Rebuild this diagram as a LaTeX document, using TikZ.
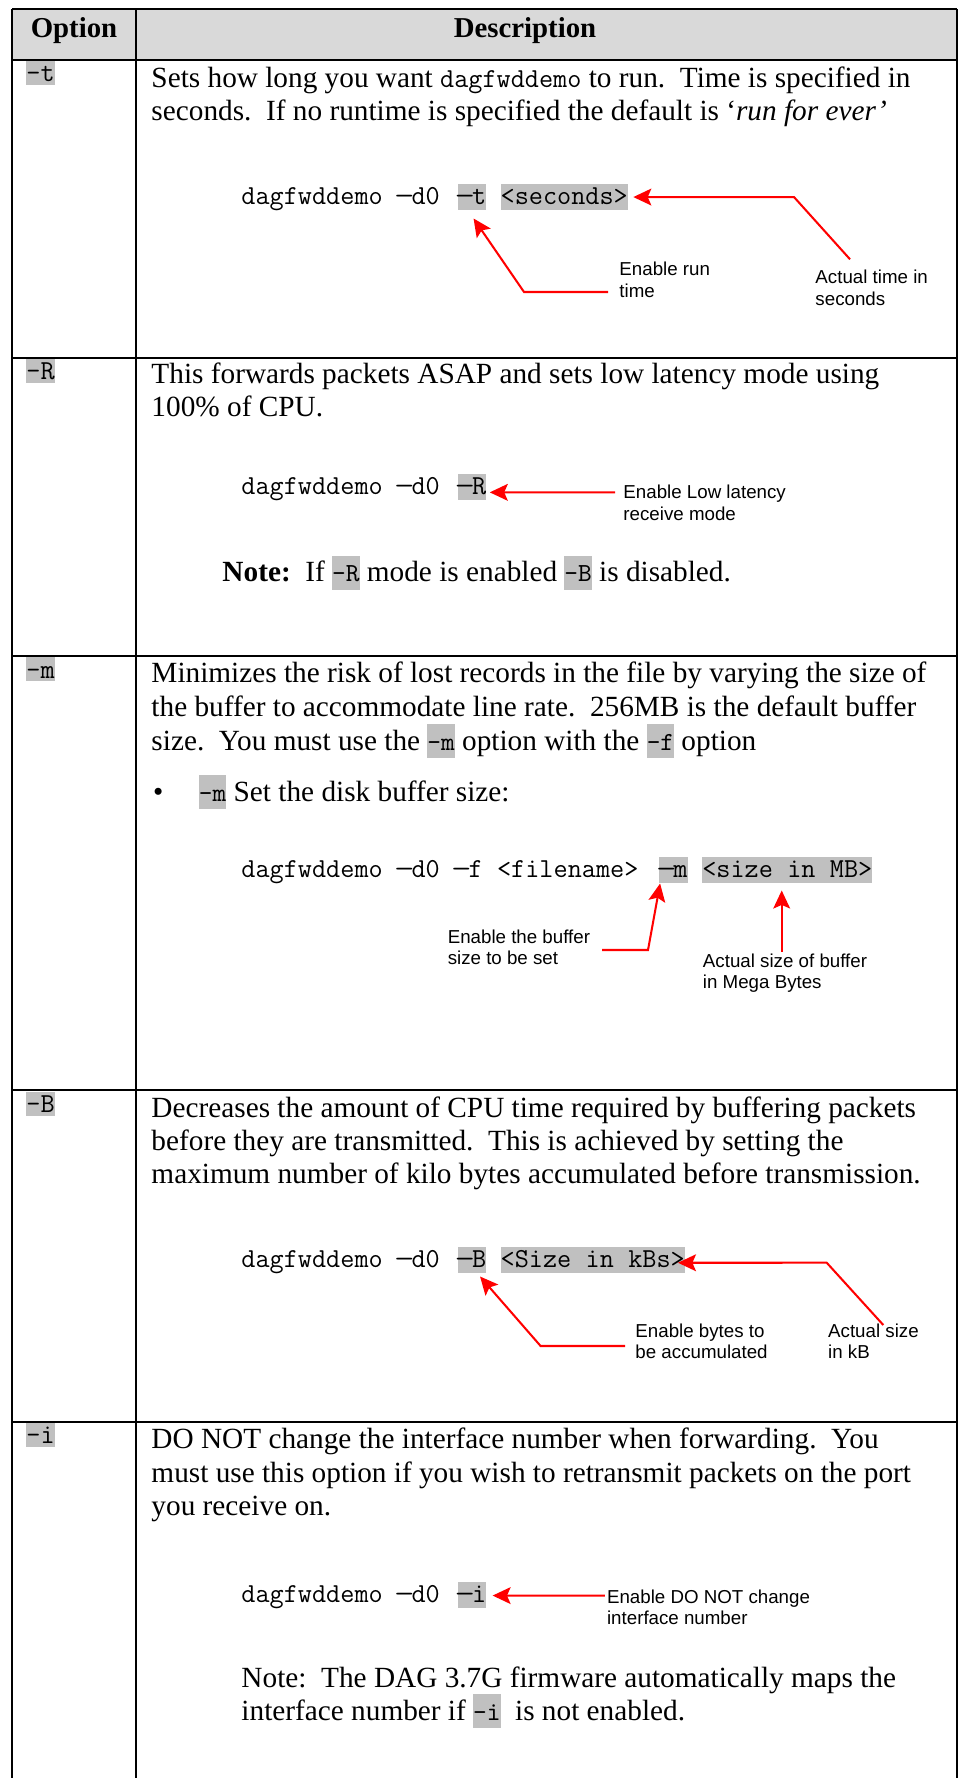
\documentclass[tikz,border=0pt]{standalone}
\usepackage{fontspec}
\setmainfont{Liberation Serif}
\setsansfont{Liberation Sans}
\usetikzlibrary{arrows.meta,calc}

\definecolor{headgray}{RGB}{217,217,217}
\definecolor{hlgray}{RGB}{192,192,192}
\definecolor{callred}{RGB}{255,0,0}

% highlighted option inside running text
\newcommand\hlin[1]{{\setlength{\fboxsep}{0pt}\colorbox{hlgray}{\rule[-3.3pt]{0pt}{14.1pt}\fontsize{10.86}{11}\selectfont\ttfamily #1}}}
% command lines: one character cell = 6pt, spaces included
\newcommand\cmdfont{\fontsize{11.43}{13}\selectfont\ttfamily\spaceskip=6pt\relax}
% long dash filling one character cell
\newcommand\dsh{\makebox[6pt]{\scalebox{1.45}[1]{–}}}

\tikzset{
  grid/.style={line width=0.85pt},
  head/.style={anchor=base, inner sep=0pt, font=\fontsize{12}{14}\selectfont\bfseries},
  body/.style={anchor=base west, inner sep=0pt, font=\fontsize{12.2}{13.8}\selectfont},
  cmd/.style={anchor=base west, inner sep=0pt, font=\cmdfont},
  hlbox/.style={cmd, fill=hlgray, text height=8.5pt, text depth=2.3pt},
  optbox/.style={anchor=base west, inner sep=0pt, fill=hlgray, font=\cmdfont, text height=8.6pt, text depth=1.4pt},
  lbl/.style={anchor=base west, inner sep=0pt, font=\fontsize{7.8}{8.9}\selectfont\sffamily},
  callout/.style={draw=callred, line width=0.85pt, -{Stealth[length=7.5pt,width=7pt,inset=1.5pt]}},
}

\begin{document}
\begin{tikzpicture}[x=0.41667pt, y=-0.41667pt]
\frenchspacing
\path[fill=white, use as bounding box] (0,0) rectangle (958,1778);

% header band
\fill[headgray] (12,9) rectangle (957,60);
\node[head] (hOpt) at (74,37.5) {Option};
\node[head] (hDesc) at (525,37.5) {Description};

% table rules
\draw[grid] (12,9) -- (957,9);
\draw[grid] (12,60) -- (957,60);
\draw[grid] (12,357.7) -- (957,357.7);
\draw[grid] (12,656) -- (957,656);
\draw[grid] (12,1090) -- (957,1090);
\draw[grid] (12,1422) -- (957,1422);
\draw[grid] (12,9) -- (12,1778);
\draw[grid] (135.6,9) -- (135.6,1778);
\draw[grid] (957,9) -- (957,1778);

% option column
\node[optbox] (oT) at (26,82) {-t};
\node[optbox] (oR) at (26,379.3) {-R};
\node[optbox] (oM) at (26,678) {-m};
\node[optbox] (oB) at (26,1112.7) {-B};
\node[optbox] (oI) at (26,1443.7) {-i};

% ---- -t ----
\node[body] (tL1) at (151,87.3) {Sets how long you want {\cmdfont dagfwddemo} to run.\ \ Time is specified in};
\node[body] (tL2) at (151,120.7) {seconds.\ \ If no runtime is specified the default is ‘\textit{run for ever’}};
\node[cmd] (tCmd) at (241,204.5) {dagfwddemo \dsh d0};
\node[hlbox] (tOpt) at (457.3,204.5) {\dsh t};
\node[hlbox] (tVal) at (500.2,204.5) {<seconds>};
\node[lbl] (tLa1) at (619,276) {Enable run};
\node[lbl] (tLa2) at (619,297.3) {time};
\node[lbl] (tLb1) at (815,284) {Actual time in};
\node[lbl] (tLb2) at (815,305.3) {seconds};
\coordinate (tA1) at (850,259.3);
\coordinate (tA1k) at (794,0);
\draw[callout] (tA1) -- (tA1k |- tVal.east) -- ($(tVal.east)+(5,0)$);
\coordinate (tA2) at (608,292);
\coordinate (tA2k) at (524,292);
\draw[callout] (tA2) -- (tA2k) -- ($(tOpt.south)+(1.5,8)$);

% ---- -R ----
\node[body] (rL1) at (151,383.7) {This forwards packets ASAP and sets low latency mode using};
\node[body] (rL2) at (151,417) {100\% of CPU.};
\node[cmd] (rCmd) at (241,494.5) {dagfwddemo \dsh d0};
\node[hlbox] (rOpt) at (457.3,494.5) {\dsh R};
\node[lbl] (rLa1) at (623,499) {Enable Low latency};
\node[lbl] (rLa2) at (623,520.3) {receive mode};
\coordinate (rA) at (615,492.3);
\draw[callout] (rA) -- ($(rOpt.east)+(3,5.3)$);
\node[body] (rNote) at (222,582) {\textbf{Note:}\ \ If \hlin{-R} mode is enabled \hlin{-B} is disabled.};

% ---- -m ----
\node[body] (mL1) at (151,682) {Minimizes the risk of lost records in the file by varying the size of};
\node[body] (mL2) at (151,716) {the buffer to accommodate line rate.\ \ 256MB is the default buffer};
\node[body] (mL3) at (151,750) {size.\ \ You must use the \hlin{-m} option with the \hlin{-f} option};
\node[body] (mBul) at (152.7,801) {•};
\node[body] (mBulTxt) at (198.5,801) {\hlin{-m} Set the disk buffer size:};
\node[cmd] (mCmd) at (241,877.5) {dagfwddemo \dsh d0 \dsh f <filename>};
\node[hlbox] (mOpt) at (658.6,877.5) {\dsh m};
\node[hlbox] (mVal) at (701.8,877.5) {<size in MB>};
\node[lbl] (mLa1) at (447.3,943) {Enable the buffer};
\node[lbl] (mLa2) at (447.3,964.3) {size to be set};
\node[lbl] (mLb1) at (702.5,967.3) {Actual size of buffer};
\node[lbl] (mLb2) at (702.5,988.5) {in Mega Bytes};
\coordinate (mA1) at (602,950);
\coordinate (mA1k) at (648,950);
\draw[callout] (mA1) -- (mA1k) -- ($(mOpt.south west)+(1.5,0)$);
\coordinate (mA2) at (781.7,951.7);
\coordinate (mA2t) at ($(mVal.south)+(-6.5,7)$);
\draw[callout] (mA2) -- (mA2 |- mA2t);

% ---- -B ----
\node[body] (bL1) at (151,1117) {Decreases the amount of CPU time required by buffering packets};
\node[body] (bL2) at (151,1150) {before they are transmitted.\ \ This is achieved by setting the};
\node[body] (bL3) at (151,1183.7) {maximum number of kilo bytes accumulated before transmission.};
\node[cmd] (bCmd) at (241,1267.5) {dagfwddemo \dsh d0};
\node[hlbox] (bOpt) at (457.3,1267.5) {\dsh B};
\node[hlbox] (bVal) at (500.2,1267.5) {<Size in kBs>};
\node[lbl] (bLa1) at (635,1337.3) {Enable bytes to};
\node[lbl] (bLa2) at (635,1358.6) {be accumulated};
\node[lbl] (bLb1) at (827.7,1337.3) {Actual size};
\node[lbl] (bLb2) at (827.7,1358.6) {in kB};
\coordinate (bA1) at (883.3,1325);
\coordinate (bA1k) at (826.7,1262.7);
\draw[callout] (bA1) -- (bA1k) -- ($(bVal.east)+(-7.4,2.7)$);
\coordinate (bA2) at (625,1346);
\coordinate (bA2k) at (540.6,1346);
\draw[callout] (bA2) -- (bA2k) -- ($(bOpt.south)+(8,3)$);

% ---- -i ----
\node[body] (iL1) at (151,1448.7) {DO NOT change the interface number when forwarding.\ \ You};
\node[body] (iL2) at (151,1482) {must use this option if you wish to retransmit packets on the port};
\node[body] (iL3) at (151,1515) {you receive on.};
\node[cmd] (iCmd) at (241,1602) {dagfwddemo \dsh d0};
\node[hlbox] (iOpt) at (457.3,1602) {\dsh i};
\node[lbl] (iLa1) at (606.6,1603) {Enable DO NOT change};
\node[lbl] (iLa2) at (606.6,1624.5) {interface number};
\coordinate (iA) at (604.8,1595.7);
\draw[callout] (iA) -- ($(iOpt.east)+(5.8,1)$);
\node[body] (iN1) at (241,1687) {Note:\ \ The DAG 3.7G firmware automatically maps the};
\node[body] (iN2) at (241,1720.3) {interface number if \hlin{-i}\ \ is not enabled.};
\end{tikzpicture}
\end{document}
